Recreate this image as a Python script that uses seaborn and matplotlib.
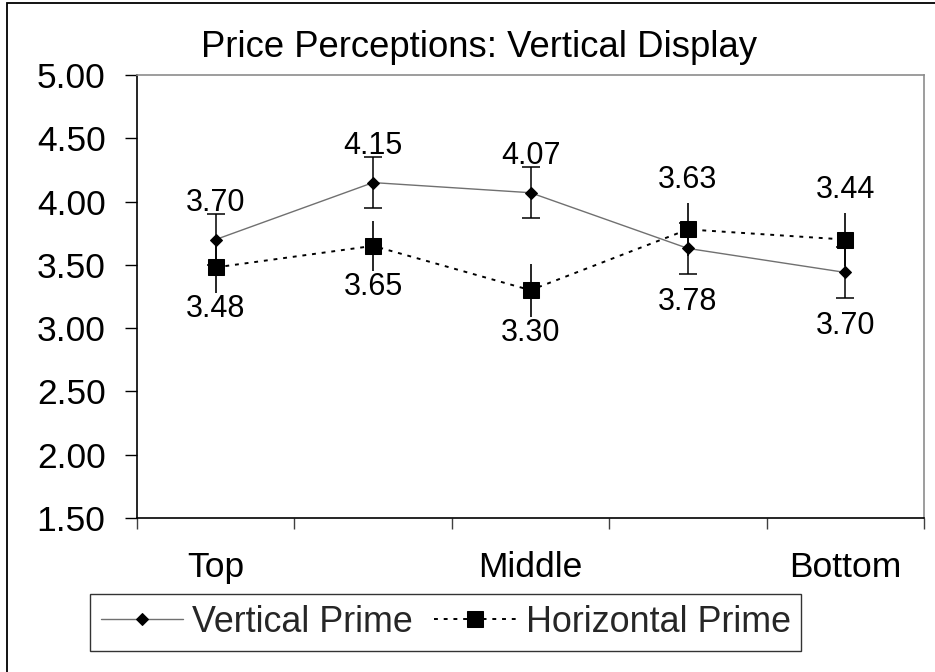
import numpy as np
import pandas as pd
import matplotlib
matplotlib.use("Agg")
import matplotlib.pyplot as plt
import seaborn as sns
from matplotlib.patches import Rectangle

# Données
positions = ["Top", "", "Middle", "", "Bottom"]
vertical_prime = [3.70, 4.15, 4.07, 3.63, 3.44]
horizontal_prime = [3.48, 3.65, 3.30, 3.78, 3.70]
vertical_err = [0.20, 0.20, 0.20, 0.20, 0.20]
horizontal_err = [0.20, 0.20, 0.21, 0.21, 0.21]
y_ticks = [1.50, 2.00, 2.50, 3.00, 3.50, 4.00, 4.50, 5.00]
title = "Price Perceptions: Vertical Display"

sns.set_theme(style="white")
plt.rcParams['font.family'] = ['Liberation Sans', 'DejaVu Sans']

W, H = 935, 672
fig = plt.figure(figsize=(W / 100, H / 100), dpi=100)
ax = fig.add_axes([137 / W, 154 / H, (924 - 137) / W, (518 - 75) / H])

x = np.arange(len(positions))
df = pd.DataFrame({"x": x, "vertical": vertical_prime, "horizontal": horizontal_prime})

# Barres d'erreur
ax.errorbar(x, vertical_prime, yerr=vertical_err, fmt='none', ecolor='black',
            elinewidth=1.1, capsize=6.5, capthick=1.1, zorder=2)
ax.errorbar(x, horizontal_prime, yerr=horizontal_err, fmt='none', ecolor='black',
            elinewidth=1.2, capsize=0, zorder=2)

# Séries
sns.lineplot(data=df, x="x", y="vertical", ax=ax, color="#707070", lw=1.0,
             marker="D", markersize=6.5, markerfacecolor="black", markeredgecolor="black",
             label="Vertical Prime", zorder=3)
sns.lineplot(data=df, x="x", y="horizontal", ax=ax, color="black", lw=1.4,
             linestyle=(0, (2, 3)), marker="s", markersize=12, markerfacecolor="black",
             markeredgecolor="black", label="Horizontal Prime", zorder=4)

# Étiquettes de valeurs (écartées davantage quand les courbes se croisent)
for i in range(len(x)):
    top = max(vertical_prime[i] + vertical_err[i], horizontal_prime[i] + horizontal_err[i])
    bottom = min(vertical_prime[i] - vertical_err[i], horizontal_prime[i] - horizontal_err[i])
    gap = 12 if horizontal_prime[i] > vertical_prime[i] else 0
    ax.annotate(f"{vertical_prime[i]:.2f}", (x[i], top), xytext=(0, 3 + gap), textcoords='offset pixels',
                ha='center', va='baseline', fontsize=22, color='black')
    ax.annotate(f"{horizontal_prime[i]:.2f}", (x[i], bottom), xytext=(0, -1 - gap), textcoords='offset pixels',
                ha='center', va='top', fontsize=22, color='black')

# Axes
ax.set_xlim(-0.5, len(x) - 0.5)
ax.set_ylim(y_ticks[0], y_ticks[-1])
ax.set_yticks(y_ticks)
ax.set_yticklabels([f"{t:.2f}" for t in y_ticks], fontsize=25.5, color='black')
ax.set_xticks(np.arange(-0.5, len(x), 1.0))
ax.set_xticklabels([])
ax.set_xticks(x, minor=True)
ax.set_xticklabels(positions, minor=True, fontsize=25.5, color='black')
ax.tick_params(axis='y', direction='out', length=8.6, width=1, color='black', pad=14, left=True)
ax.tick_params(axis='x', which='major', direction='out', length=8, width=1, color='#404040', bottom=True)
ax.tick_params(axis='x', which='minor', length=0, pad=24)
ax.set_xlabel("")
ax.set_ylabel("")
for s in ['left', 'bottom']:
    ax.spines[s].set_color('black')
    ax.spines[s].set_linewidth(1.2)
for s in ['top', 'right']:
    ax.spines[s].set_color('#8c8c8c')
    ax.spines[s].set_linewidth(1.2)
ax.grid(False)

# Titre
fig.text(479 / W, 1 - 57 / H, title, ha='center', va='baseline', fontsize=26.3, color='black')

# Légende
handles, labels = ax.get_legend_handles_labels()
ax.get_legend().remove()
leg = fig.legend(handles, labels, loc='center', bbox_to_anchor=(445.5 / W, 1 - 622.5 / H), ncol=2,
                 frameon=True, fancybox=False, edgecolor='black', fontsize=25.8,
                 handlelength=2.3, handletextpad=0.25, columnspacing=0.6,
                 borderpad=0.3, borderaxespad=0)
leg.get_frame().set_linewidth(1.0)

# Cadre extérieur
fig.add_artist(Rectangle((7 / W, -0.05), 1.1, 1 - 3 / H + 0.05, transform=fig.transFigure,
                         fill=False, edgecolor='black', lw=1.3))

fig.savefig("out.png", dpi=100)
